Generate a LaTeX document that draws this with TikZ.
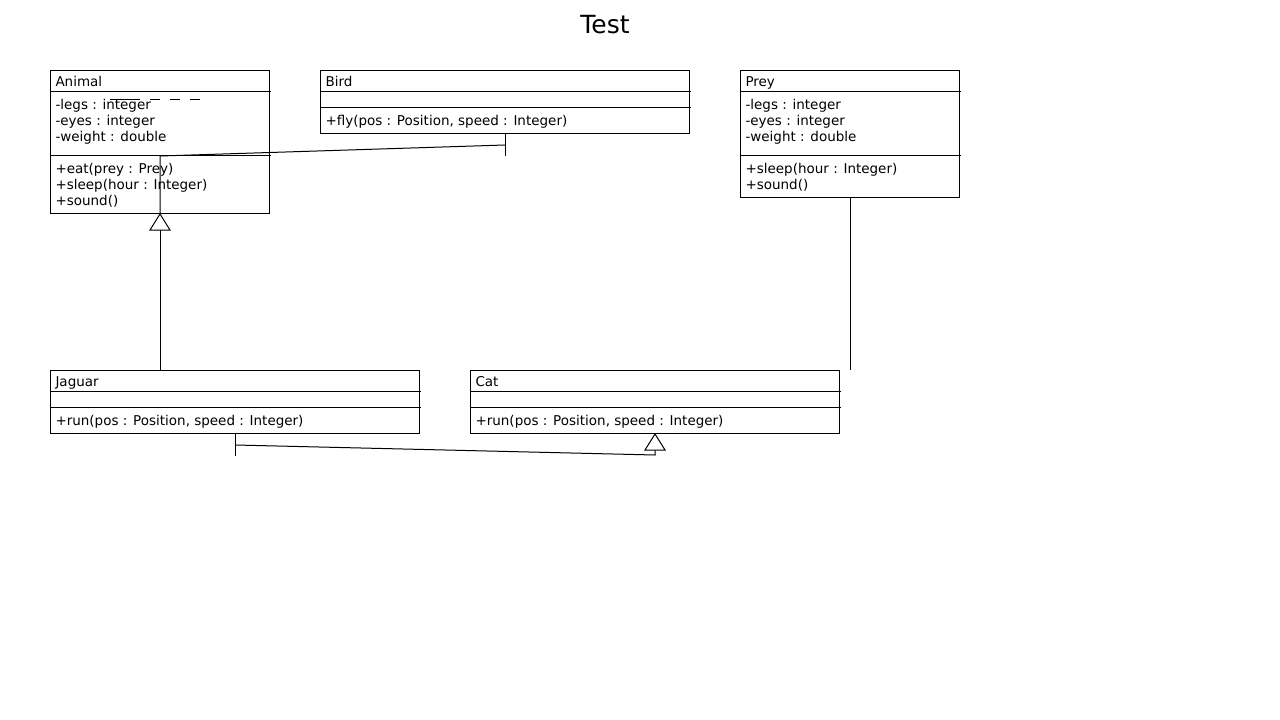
\documentclass[tikz,border=0pt]{standalone}
\usepackage{fontspec}
\setmainfont{DejaVu Sans}
\usetikzlibrary{calc,positioning}
\tikzset{
	classbox/.style={draw, anchor=north west, inner sep=0pt},
	members/.style={anchor=base west, inner sep=0pt, align=left, font=\fontsize{13.5}{16}\selectfont},
	opentip/.style={fill=white}
}

\begin{document}
\begin{tikzpicture}[x=1pt, y=-1pt, line width=1pt]
			%%%%% START %%%%%
			\useasboundingbox (0,0) rectangle (1280,720);
			
			\node[anchor=base, inner sep=0pt, font=\fontsize{25}{29}\selectfont] (title) at (605,34) {Test};
			
			% Animal (multi-line members sit on their last baseline)
			\node[classbox, minimum width=219pt, minimum height=143pt] (animal) at (50,70) {};
			\node[members] (animalname) at (55,86) {Animal};
			\node[members] (animalattr) at (55,141) {-legs : integer\\-eyes : integer\\-weight : double};
			\node[members] (animalops) at (55,205) {+eat(prey : Prey)\\+sleep(hour : Integer)\\+sound()};
			\draw ($(animal.north west)+(0,21)$) -- ++(221,0);
			\draw ($(animal.north west)+(0,85)$) -- ++(221,0);
			
			% Bird
			\node[classbox, minimum width=369pt, minimum height=63pt] (bird) at (320,70) {};
			\node[members] (birdname) at (325,86) {Bird};
			\node[members] (birdops) at (325,125) {+fly(pos : Position, speed : Integer)};
			\draw ($(bird.north west)+(0,21)$) -- ++(371,0);
			\draw ($(bird.north west)+(0,37)$) -- ++(371,0);
			
			% Prey
			\node[classbox, minimum width=219pt, minimum height=127pt] (prey) at (740,70) {};
			\node[members] (preyname) at (745,86) {Prey};
			\node[members] (preyattr) at (745,141) {-legs : integer\\-eyes : integer\\-weight : double};
			\node[members] (preyops) at (745,189) {+sleep(hour : Integer)\\+sound()};
			\draw ($(prey.north west)+(0,21)$) -- ++(221,0);
			\draw ($(prey.north west)+(0,85)$) -- ++(221,0);
			
			% Jaguar
			\node[classbox, minimum width=369pt, minimum height=63pt] (jaguar) at (50,370) {};
			\node[members] (jaguarname) at (55,386) {Jaguar};
			\node[members] (jaguarops) at (55,425) {+run(pos : Position, speed : Integer)};
			\draw ($(jaguar.north west)+(0,21)$) -- ++(371,0);
			\draw ($(jaguar.north west)+(0,37)$) -- ++(371,0);
			
			% Cat
			\node[classbox, minimum width=369pt, minimum height=63pt] (cat) at (470,370) {};
			\node[members] (catname) at (475,386) {Cat};
			\node[members] (catops) at (475,425) {+run(pos : Position, speed : Integer)};
			\draw ($(cat.north west)+(0,21)$) -- ++(371,0);
			\draw ($(cat.north west)+(0,37)$) -- ++(371,0);
			
			% stray dashes
			\draw[dash pattern=on 30pt off 10pt on 10pt off 10pt on 10pt off 10pt on 10pt] ($(animal.north west)+(60,29)$) -- ++(90,0);
			
			% Jaguar -> Animal
			\draw (animal.south |- jaguar.north) -- ($(animal.south)+(0,16)$);
			\draw[opentip] (animal.south) -- ++(-10,16) -- ++(20,0) -- cycle;
			
			% Bird -- Animal
			\coordinate (birdjoin) at ($(animal.south)+(0,-58)$);
			\draw (bird.south) -- ++(0,22);
			\draw ($(bird.south)+(0,11)$) -- (birdjoin) -- (animal.south);
			
			% Prey
			\draw (prey.south) -- (prey.south |- cat.north);
			
			% Jaguar -> Cat
			\coordinate (catfoot) at ($(cat.south)+(0,21)$);
			\draw (jaguar.south) -- ++(0,22);
			\draw ($(jaguar.south)+(0,11)$) -- (catfoot) -- ($(cat.south)+(0,16)$);
			\draw[opentip] (cat.south) -- ++(-10,16) -- ++(20,0) -- cycle;
			
			%%%%% END %%%%%
\end{tikzpicture}
\end{document}
